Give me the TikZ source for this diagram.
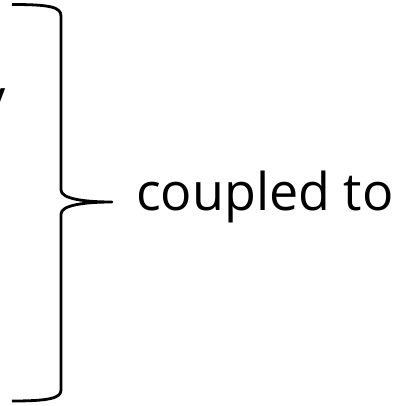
\documentclass[tikz,border=0pt]{standalone}
\usepackage{fontspec}
\setmainfont{Open Sans}
\begin{document}
\begin{tikzpicture}[x=1pt,y=-1pt,
  bracestyle/.style={line width=2.8pt, line join=round},
  lbl/.style={inner sep=0pt, font=\fontsize{52}{62}\selectfont}]
\useasboundingbox (0,0) rectangle (405,406);
\begin{scope}
\clip (0,0) rectangle (405,406);
\node[lbl, anchor=north east] (yy) at (5.5,88) {y};
\end{scope}
\coordinate (top) at (12,4.5);
\coordinate (tip) at (112,202);
\coordinate (bot) at (12,401);
\draw[bracestyle] (top) .. controls (50,4.5) and (61,7) .. (61,16)
  -- (61,190) .. controls (61,199) and (85,202) .. (tip)
  .. controls (85,202) and (61,205) .. (61,214)
  -- (61,390) .. controls (61,398) and (50,401) .. (bot);
\node[lbl, anchor=base west] (cpl) at (136,210) {coupled to};
\end{tikzpicture}
\end{document}
